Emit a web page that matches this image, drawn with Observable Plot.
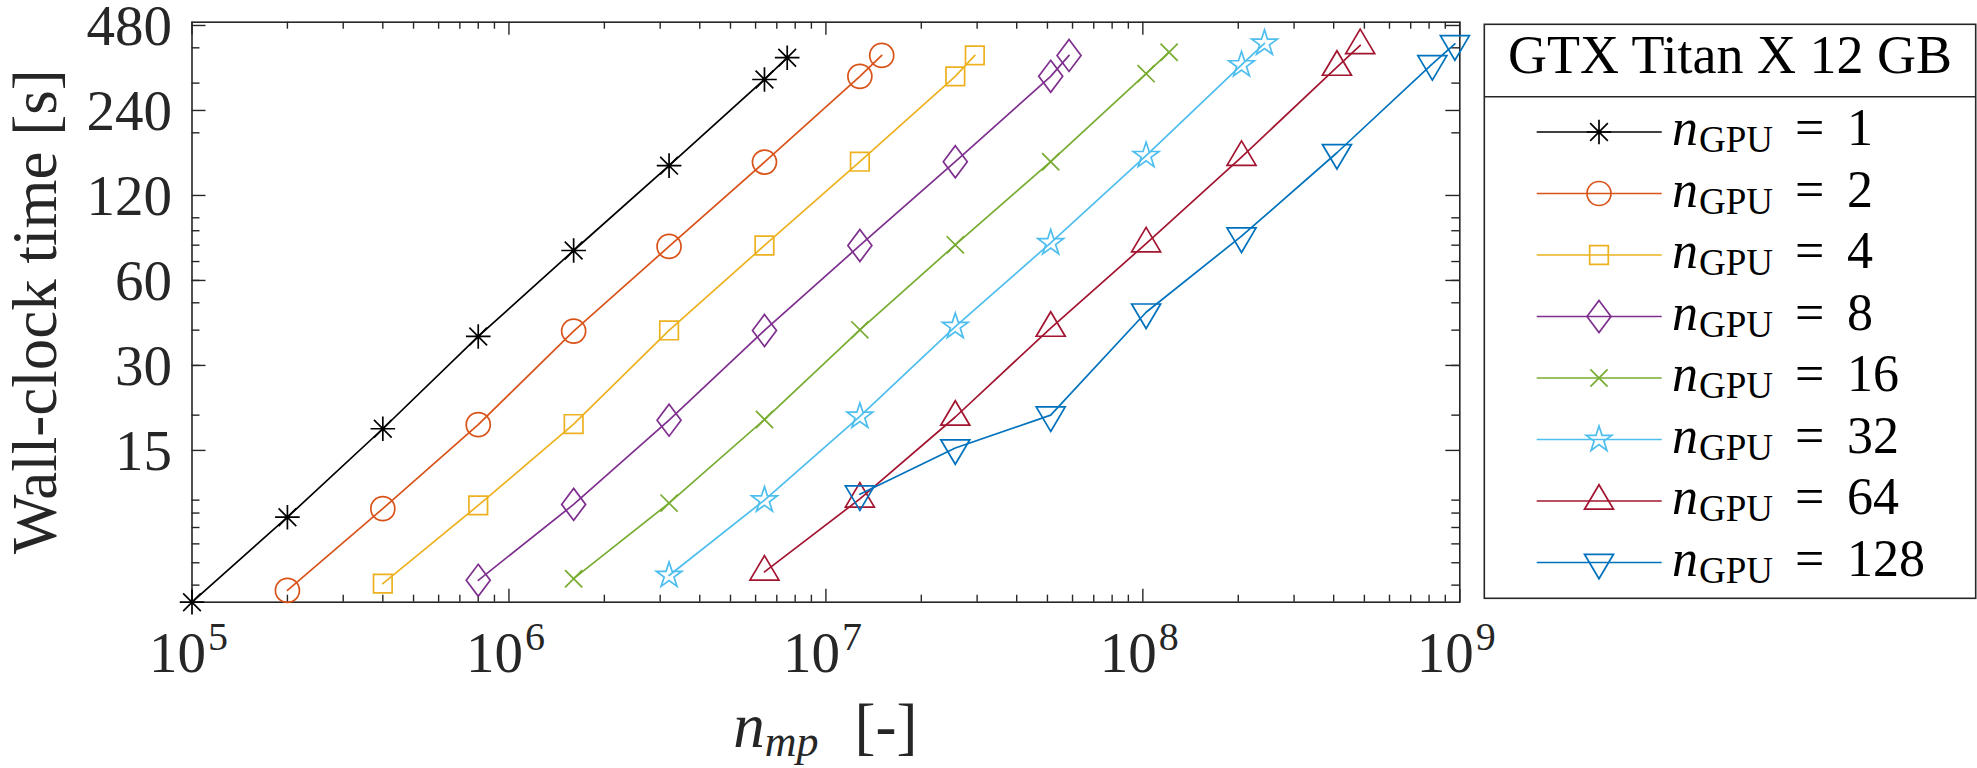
<!DOCTYPE html>
<html><head><meta charset="utf-8">
<script src="https://cdn.jsdelivr.net/npm/d3@7"></script>
<script src="https://cdn.jsdelivr.net/npm/@observablehq/plot@0.6"></script>
<style>
html,body{margin:0;padding:0;background:#fff;}
#chart{position:relative;width:1977px;height:768px;}
</style></head><body><div id="chart"></div>
<script>
// ---- data ----
const gpuCounts = [1, 2, 4, 8, 16, 32, 64, 128];
const seriesColors = ["#000000", "#D95319", "#EDB120", "#7E2F8E", "#77AC30", "#4DBEEE", "#A2142F", "#0072BD"];

const nmpG1   = [1e5, 2e5, 4e5, 8e5, 1.6e6, 3.2e6, 6.4e6, 7.55e6];
const timeG1  = [4.35, 8.7, 17.9, 38.0, 76.6, 153, 309, 369];
const nmpG2   = [2e5, 4e5, 8e5, 1.6e6, 3.2e6, 6.4e6, 1.28e7, 1.5e7];
const timeG2  = [4.79, 9.33, 18.5, 39.7, 79.2, 157.5, 317, 376];
const nmpG4   = [4e5, 8e5, 1.6e6, 3.2e6, 6.4e6, 1.28e7, 2.56e7, 2.95e7];
const timeG4  = [5.06, 9.58, 18.6, 39.9, 79.8, 158, 317, 376];
const nmpG8   = [8e5, 1.6e6, 3.2e6, 6.4e6, 1.28e7, 2.56e7, 5.12e7, 5.85e7];
const timeG8  = [5.2, 9.66, 19.2, 39.9, 79.8, 158, 317, 376];
const nmpG16  = [1.6e6, 3.2e6, 6.4e6, 1.28e7, 2.56e7, 5.12e7, 1.024e8, 1.21e8];
const timeG16 = [5.27, 9.76, 19.3, 40.1, 80.2, 158, 324, 386];
const nmpG32  = [3.2e6, 6.4e6, 1.28e7, 2.56e7, 5.12e7, 1.024e8, 2.048e8, 2.42e8];
const timeG32 = [5.41, 10.0, 19.8, 41.2, 81.5, 166, 348, 415];
const nmpG64  = [6.4e6, 1.28e7, 2.56e7, 5.12e7, 1.024e8, 2.048e8, 4.096e8, 4.85e8];
const timeG64 = [5.57, 10.1, 19.7, 40.7, 81, 164, 342, 408];
const nmpG128 = [1.28e7, 2.56e7, 5.12e7, 1.024e8, 2.048e8, 4.096e8, 8.192e8, 9.65e8];
const timeG128= [10.5, 15.3, 20.0, 46.3, 86.1, 170, 351, 413];

const xMajorTicks = [1e5, 1e6, 1e7, 1e8, 1e9];
const xExponents = ["5", "6", "7", "8", "9"];
const yTickValues = [15, 30, 60, 120, 240, 480];
const xDomain = [1e5, 1e9];
const yDomain = [4.35, 493];
const legendTitle = "GTX Titan X 12 GB";

// ---- marker shapes (MATLAB-like) ----
const R0 = 13;
function poly(ctx, pts){ ctx.moveTo(pts[0][0], pts[0][1]); for (let i=1;i<pts.length;i++) ctx.lineTo(pts[i][0], pts[i][1]); ctx.closePath(); }
const symAsterisk = {draw(ctx, size){ const k=Math.sqrt(size/Math.PI)/R0, a=12.3*k, d=a*0.72;
  ctx.moveTo(0,-a); ctx.lineTo(0,a); ctx.moveTo(-a,0); ctx.lineTo(a,0);
  ctx.moveTo(-d,-d); ctx.lineTo(d,d); ctx.moveTo(-d,d); ctx.lineTo(d,-d); }};
const symCircle = {draw(ctx, size){ const k=Math.sqrt(size/Math.PI)/R0, r=12*k; ctx.moveTo(r,0); ctx.arc(0,0,r,0,2*Math.PI); ctx.closePath(); }};
const symSquare = {draw(ctx, size){ const k=Math.sqrt(size/Math.PI)/R0, h=9.3*k; poly(ctx, [[-h,-h],[h,-h],[h,h],[-h,h]]); }};
const symDiamond = {draw(ctx, size){ const k=Math.sqrt(size/Math.PI)/R0; poly(ctx, [[0,-16*k],[12*k,0],[0,16*k],[-12*k,0]]); }};
const symCross = {draw(ctx, size){ const k=Math.sqrt(size/Math.PI)/R0, a=8.6*k; ctx.moveTo(-a,-a); ctx.lineTo(a,a); ctx.moveTo(-a,a); ctx.lineTo(a,-a); }};
const symPentagram = {draw(ctx, size){ const k=Math.sqrt(size/Math.PI)/R0, Ro=13.5*k, Ri=Ro*0.382; const pts=[];
  for (let i=0;i<10;i++){ const ang=-Math.PI/2 + i*Math.PI/5, rr = i%2===0 ? Ro : Ri; pts.push([rr*Math.cos(ang), rr*Math.sin(ang)]); }
  poly(ctx, pts); }};
const symTriUp = {draw(ctx, size){ const k=Math.sqrt(size/Math.PI)/R0; poly(ctx, [[0,-16.3*k],[14.5*k,8.2*k],[-14.5*k,8.2*k]]); }};
const symTriDown = {draw(ctx, size){ const k=Math.sqrt(size/Math.PI)/R0; poly(ctx, [[0,16.3*k],[14.5*k,-8.2*k],[-14.5*k,-8.2*k]]); }};

const seriesSymbols = [symAsterisk, symCircle, symSquare, symDiamond, symCross, symPentagram, symTriUp, symTriDown];
const seriesNmp = [nmpG1, nmpG2, nmpG4, nmpG8, nmpG16, nmpG32, nmpG64, nmpG128];
const seriesTime = [timeG1, timeG2, timeG4, timeG8, timeG16, timeG32, timeG64, timeG128];

// ---- layout ----
const W = 1977, H = 768, mL = 191.5, mR = 517.7, mT = 21.7, mB = 166.3;
const frameH = H - mT - mB, frameW = W - mL - mR;
const axisColor = "#262626";
const font = '"Liberation Serif", "Times New Roman", serif';
const isDecade = v => Math.abs(Math.log10(v) - Math.round(Math.log10(v))) < 1e-9;
const xMinor = d3.scaleLog().domain(xDomain).ticks().filter(v => !isDecade(v));
const yMinor = d3.scaleLog().domain(yDomain).ticks();

const marks = [];
marks.push(Plot.frame({stroke: axisColor, strokeWidth: 1.6}));
const tk = {stroke: axisColor, strokeWidth: 1.4};
marks.push(Plot.tickX(xMinor, {x: d => d, insetTop: frameH - 7, ...tk}));
marks.push(Plot.tickX(xMinor, {x: d => d, insetBottom: frameH - 7, ...tk}));
marks.push(Plot.tickX(xMajorTicks, {x: d => d, insetTop: frameH - 13, ...tk}));
marks.push(Plot.tickX(xMajorTicks, {x: d => d, insetBottom: frameH - 13, ...tk}));
marks.push(Plot.tickY(yMinor, {y: d => d, insetRight: frameW - 8, ...tk}));
marks.push(Plot.tickY(yMinor, {y: d => d, insetLeft: frameW - 8, ...tk}));
marks.push(Plot.tickY(yTickValues, {y: d => d, insetRight: frameW - 14, ...tk}));
marks.push(Plot.tickY(yTickValues, {y: d => d, insetLeft: frameW - 14, ...tk}));

// tick labels
marks.push(Plot.text(yTickValues, {y: d => d, frameAnchor: "left", dx: -20, dy: 1, textAnchor: "end", lineAnchor: "middle",
  text: d => String(d), fontSize: 57, fill: axisColor, fontFamily: font}));
marks.push(Plot.text(xMajorTicks, {x: d => d, frameAnchor: "bottom", dy: 70, dx: 14, textAnchor: "end", lineAnchor: "bottom",
  text: () => "10", fontSize: 57, fill: axisColor, fontFamily: font}));
marks.push(Plot.text(xMajorTicks, {x: d => d, frameAnchor: "bottom", dy: 48, dx: 16, textAnchor: "start", lineAnchor: "bottom",
  text: (d, i) => xExponents[i], fontSize: 40, fill: axisColor, fontFamily: font}));

// series
gpuCounts.forEach((g, i) => {
  const rows = seriesNmp[i].map((x, j) => ({nmp: x, time: seriesTime[i][j]}));
  marks.push(Plot.line(rows, {x: "nmp", y: "time", stroke: seriesColors[i], strokeWidth: 1.7}));
  marks.push(Plot.dot(rows, {x: "nmp", y: "time", stroke: seriesColors[i], fill: "none", strokeWidth: 1.7, r: R0, symbol: seriesSymbols[i]}));
});

const plot = Plot.plot({
  width: W, height: H,
  marginLeft: mL, marginRight: mR, marginTop: mT, marginBottom: mB,
  x: {type: "log", domain: xDomain, axis: null},
  y: {type: "log", domain: yDomain, axis: null},
  style: {background: "white", fontFamily: font, overflow: "visible"},
  marks
});
document.getElementById("chart").appendChild(plot);

const svg = d3.select(plot);
// axis labels
svg.append("text").attr("transform", `translate(56,${mT + frameH/2}) rotate(-90)`)
  .attr("text-anchor", "middle").attr("font-family", font).attr("font-size", 63).attr("fill", axisColor)
  .text("Wall-clock time [s]");
const xl = svg.append("text").attr("x", mL + frameW/2).attr("y", 747).attr("text-anchor", "middle")
  .attr("font-family", font).attr("font-size", 63).attr("fill", axisColor);
xl.append("tspan").attr("font-style", "italic").text("n");
xl.append("tspan").attr("font-style", "italic").attr("font-size", 44).attr("dy", 9).text("mp");
xl.append("tspan").attr("dy", -9).attr("dx", 36).text("[-]");

// legend
const lg = svg.append("g").attr("text-anchor", "start");
const lx0 = 1484.3, ly0 = 24.3, lw = 491.4, lh = 574, lsep = 96.7;
lg.append("rect").attr("x", lx0).attr("y", ly0).attr("width", lw).attr("height", lh)
  .attr("fill", "white").attr("stroke", axisColor).attr("stroke-width", 1.6);
lg.append("line").attr("x1", lx0).attr("x2", lx0 + lw).attr("y1", lsep).attr("y2", lsep).attr("stroke", axisColor).attr("stroke-width", 1.6);
lg.append("text").attr("x", lx0 + lw/2).attr("y", 73).attr("text-anchor", "middle")
  .attr("font-family", font).attr("font-size", 54).attr("fill", "#000").text(legendTitle);
gpuCounts.forEach((g, i) => {
  const ry = 132 + i * 61.5;
  lg.append("line").attr("x1", 1536.7).attr("x2", 1661.7).attr("y1", ry).attr("y2", ry)
    .attr("stroke", seriesColors[i]).attr("stroke-width", 1.7);
  lg.append("path").attr("transform", `translate(1599,${ry})`)
    .attr("d", d3.symbol(seriesSymbols[i], R0 * R0 * Math.PI)())
    .attr("fill", "none").attr("stroke", seriesColors[i]).attr("stroke-width", 1.7);
  const t = lg.append("text").attr("x", 1672).attr("y", ry + 13).attr("text-anchor", "start")
    .attr("font-family", font).attr("font-size", 52).attr("fill", "#000");
  t.append("tspan").attr("font-style", "italic").text("n");
  t.append("tspan").attr("x", 1699).attr("dy", 7).attr("font-size", 37).text("GPU");
  t.append("tspan").attr("x", 1795).attr("dy", -7).text("=");
  t.append("tspan").attr("x", 1847).text(String(g));
});
</script>
</body></html>
